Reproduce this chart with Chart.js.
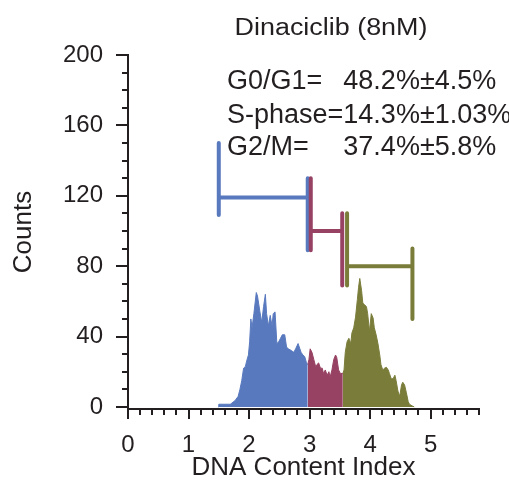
<!DOCTYPE html>
<html>
<head>
<meta charset="utf-8">
<script src="https://cdn.jsdelivr.net/npm/chart.js@4.4.1/dist/chart.umd.min.js"></script>
<style>
  html, body { margin: 0; padding: 0; background: #fff; }
</style>
</head>
<body>
<canvas id="cellCycle" width="509" height="487"></canvas>
<script>
// DNA content histogram, split into the three gated phases
const g1Index = [1.49, 1.50, 1.69, 1.71, 1.77, 1.82, 1.85, 1.88, 1.91, 1.94, 1.96, 1.99, 2.01, 2.03, 2.05, 2.08, 2.12, 2.14, 2.18, 2.21, 2.24, 2.27, 2.29, 2.32, 2.35, 2.38, 2.40, 2.43, 2.46, 2.49, 2.52, 2.55, 2.59, 2.62, 2.65, 2.70, 2.74, 2.77, 2.81, 2.84, 2.86, 2.89, 2.92, 2.95, 2.97];
const g1Counts = [0, 1.5, 1.5, 2, 3.6, 6, 10, 15, 22, 23, 26, 29.5, 37, 50, 45, 53, 65, 63, 54, 48, 57, 64, 53, 46, 52, 46, 53, 54, 36, 37, 39, 41, 41, 34, 33, 32, 31, 33, 36, 33, 31, 29.5, 28.6, 25, 24];

const sIndex = [2.97, 2.99, 3.01, 3.04, 3.07, 3.10, 3.12, 3.15, 3.18, 3.21, 3.23, 3.26, 3.29, 3.32, 3.34, 3.37, 3.40, 3.43, 3.45, 3.48, 3.51, 3.55];
const sCounts = [24, 27, 33, 31, 27, 23, 24, 25, 22, 22, 19, 21, 18, 20, 17, 21, 27, 29.5, 28, 21, 19, 19];

const g2Index = [3.55, 3.57, 3.59, 3.62, 3.65, 3.68, 3.70, 3.73, 3.76, 3.79, 3.81, 3.83, 3.86, 3.88, 3.91, 3.94, 3.96, 3.99, 4.02, 4.05, 4.07, 4.10, 4.13, 4.16, 4.18, 4.21, 4.24, 4.27, 4.30, 4.32, 4.35, 4.38, 4.41, 4.43, 4.46, 4.49, 4.52, 4.54, 4.57, 4.60, 4.63, 4.65, 4.70, 4.73];
const g2Counts = [19, 21, 31, 37, 39, 36, 42, 45, 51, 61, 68, 73, 66, 59, 58, 57, 53, 43, 53, 50.5, 45, 41, 36, 29.5, 24, 21, 22, 22.5, 21, 19, 16, 16, 18, 15, 9, 6, 12.5, 14, 12.5, 8, 3, 1.5, 0.5, 0];

// gate brackets: [low, high] index, bar level, [low cap, high cap] count spans
const g1Gate = [1.5, 2.97];
const g1Level = 119;
const g1Caps = [[109, 150], [89, 130]];
const sGate = [3.02, 3.54];
const sLevel = 100;
const sCaps = [[89, 130], [69, 110]];
const g2Gate = [3.62, 4.70];
const g2Level = 80;
const g2Caps = [[69, 110], [50, 90]];

const xTicks = [0, 1, 2, 3, 4, 5];
const yTicks = [0, 40, 80, 120, 160, 200];

const chartTitle = 'Dinaciclib (8nM)';
const phaseLabels = ['G0/G1=', 'S-phase=', 'G2/M='];
const phaseValues = ['48.2%\u00b14.5%', '14.3%\u00b11.03%', '37.4%\u00b15.8%'];

const ink = '#231f20';
const blue = '#5879be';
const maroon = '#974263';
const olive = '#7a7d3a';
const font = "'Liberation Sans', Arial, Helvetica, sans-serif";

Chart.defaults.font.family = font;
Chart.defaults.color = ink;

const pts = (xs, ys) => xs.map((x, i) => ({ x, y: ys[i] }));

function gatePoints(range, level, caps) {
  const [lo, hi] = range;
  return [
    { x: lo, y: caps[0][0] }, { x: lo, y: caps[0][1] }, { x: lo, y: null },
    { x: hi, y: caps[1][0] }, { x: hi, y: caps[1][1] }, { x: hi, y: null },
    { x: lo, y: level }, { x: hi, y: level }
  ];
}

function histo(xs, ys, color) {
  return {
    data: pts(xs, ys),
    borderColor: color,
    backgroundColor: color,
    borderWidth: 1,
    fill: 'origin',
    pointRadius: 0,
    tension: 0,
    order: 10
  };
}

function gate(range, level, caps, color, order) {
  return {
    data: gatePoints(range, level, caps),
    borderColor: color,
    borderWidth: 4,
    borderCapStyle: 'round',
    borderJoinStyle: 'round',
    fill: false,
    pointRadius: 0,
    spanGaps: false,
    order
  };
}

// minor tick marks plus the annotation text
const frame = {
  id: 'frame',
  afterDraw(chart) {
    const { ctx, scales: { x, y } } = chart;
    ctx.save();
    ctx.strokeStyle = ink;
    ctx.lineWidth = 2;
    ctx.beginPath();
    for (let v = 0; v <= 200; v += 10) {
      const py = Math.round(y.getPixelForValue(v));
      const len = v % 40 === 0 ? 12 : 6;
      ctx.moveTo(x.left, py);
      ctx.lineTo(x.left - len, py);
    }
    for (let i = 0; i <= 29; i++) {
      const px = Math.round(x.getPixelForValue(i / 5));
      const len = i % 5 === 0 ? 10 : 6;
      ctx.moveTo(px, y.bottom);
      ctx.lineTo(px, y.bottom + len);
    }
    ctx.stroke();

    ctx.fillStyle = ink;
    ctx.textBaseline = 'middle';

    // title is set a little wide
    ctx.save();
    ctx.translate(331, 29);
    ctx.scale(1.17, 1);
    ctx.font = '23px ' + font;
    ctx.textAlign = 'center';
    ctx.fillText(chartTitle, 0, 0);
    ctx.restore();

    ctx.font = '27px ' + font;
    ctx.textAlign = 'left';
    const left = 227;
    const valX = left + ctx.measureText(phaseLabels[1]).width;
    const rows = [82, 116, 148];
    phaseLabels.forEach((lab, i) => {
      ctx.fillText(lab, left, rows[i]);
      ctx.fillText(phaseValues[i], valX, rows[i]);
    });
    ctx.restore();
  }
};

new Chart(document.getElementById('cellCycle'), {
  type: 'line',
  data: {
    datasets: [
      histo(g1Index, g1Counts, blue),
      histo(sIndex, sCounts, maroon),
      histo(g2Index, g2Counts, olive),
      gate(g1Gate, g1Level, g1Caps, blue, 3),
      gate(sGate, sLevel, sCaps, maroon, 2),
      gate(g2Gate, g2Level, g2Caps, olive, 1)
    ]
  },
  options: {
    responsive: false,
    animation: false,
    layout: { padding: { left: 0, right: 30, top: 55, bottom: 0 } },
    plugins: { legend: { display: false }, tooltip: { enabled: false } },
    scales: {
      x: {
        type: 'linear',
        min: 0,
        max: 5.8,
        afterBuildTicks: s => { s.ticks = xTicks.map(v => ({ value: v })); },
        afterFit: s => { s.height = 78; },
        grid: { display: false, drawTicks: false },
        border: { display: true, color: ink, width: 2 },
        ticks: { padding: 22, font: { size: 24 }, color: ink, maxRotation: 0 },
        title: {
          display: true,
          text: 'DNA Content Index',
          color: ink,
          font: { size: 26, lineHeight: 1 },
          padding: { top: 0, bottom: 6 }
        }
      },
      y: {
        min: -1.2,
        max: 200,
        afterBuildTicks: s => { s.ticks = yTicks.map(v => ({ value: v })); },
        afterFit: s => { s.width = 128; },
        grid: { display: false, drawTicks: false },
        border: { display: true, color: ink, width: 2 },
        ticks: { padding: 25, font: { size: 24 }, color: ink },
        title: {
          display: true,
          text: 'Counts',
          color: ink,
          font: { size: 26 },
          padding: { top: 8, bottom: 0 }
        }
      }
    }
  },
  plugins: [frame]
});
</script>
</body>
</html>
